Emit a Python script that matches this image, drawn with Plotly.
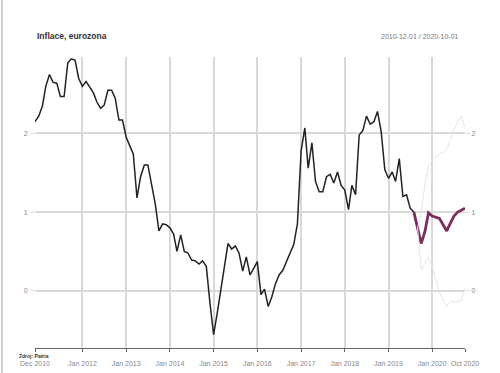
import pandas as pd
import plotly.graph_objects as go

# ---- data -------------------------------------------------------------
hist_start = "2010-12-01"
inflation = [
    2.15, 2.22, 2.35, 2.60, 2.75, 2.65, 2.64, 2.47, 2.47, 2.90, 2.95, 2.93,   # 2010-12 .. 2011-11
    2.70, 2.60, 2.66, 2.60, 2.52, 2.40, 2.32, 2.36, 2.55, 2.55, 2.45, 2.17,   # 2011-12 .. 2012-11
    2.17, 1.95, 1.83, 1.74, 1.18, 1.45, 1.60, 1.60, 1.35, 1.10, 0.76, 0.85,   # 2012-12 .. 2013-11
    0.84, 0.80, 0.72, 0.50, 0.71, 0.50, 0.48, 0.39, 0.38, 0.34, 0.38, 0.31,   # 2013-12 .. 2014-11
    -0.15, -0.56, -0.28, 0.01, 0.31, 0.60, 0.53, 0.57, 0.48, 0.25, 0.43, 0.20,  # 2014-12 .. 2015-11
    0.28, 0.37, -0.05, 0.02, -0.20, -0.08, 0.09, 0.20, 0.26, 0.37, 0.50, 0.59,  # 2015-12 .. 2016-11
    0.85, 1.78, 2.07, 1.56, 1.88, 1.39, 1.26, 1.26, 1.45, 1.48, 1.37, 1.51,   # 2016-12 .. 2017-11
    1.34, 1.28, 1.03, 1.34, 1.22, 1.98, 2.04, 2.22, 2.12, 2.15, 2.28, 2.02,   # 2017-12 .. 2018-11
    1.54, 1.43, 1.51, 1.39, 1.68, 1.20, 1.22, 1.05, 1.00,                     # 2018-12 .. 2019-08
]
fc_start = "2019-08-01"
forecast = [1.00, 0.80, 0.60, 0.75, 0.99, 0.95, 0.93, 0.92, 0.84, 0.76, 0.86, 0.95, 1.00, 1.03, 1.05]
band_start = "2019-09-01"
upper = [0.80, 1.00, 1.35, 1.58, 1.66, 1.70, 1.74, 1.76, 1.80, 1.92, 2.05, 2.15, 2.22, 2.08]
lower = [0.80, 0.26, 0.35, 0.43, 0.30, 0.15, -0.02, -0.12, -0.20, -0.14, -0.14, -0.14, -0.12, 0.03]

tick_dates = ["2010-12-01", "2012-01-01", "2013-01-01", "2014-01-01", "2015-01-01", "2016-01-01",
              "2017-01-01", "2018-01-01", "2019-01-01", "2020-01-01", "2020-10-01"]
tick_labels = ["Dec 2010", "Jan 2012", "Jan 2013", "Jan 2014", "Jan 2015", "Jan 2016",
               "Jan 2017", "Jan 2018", "Jan 2019", "Jan 2020", "Oct 2020"]
grid_dates = tick_dates[1:-1]
y_ticks = [0, 1, 2]
title = "Inflace, eurozona"
period = "2010-12-01 / 2020-10-01"
source = "Zdroj: Patria"

hist_x = pd.date_range(hist_start, periods=len(inflation), freq="MS")
fc_x = pd.date_range(fc_start, periods=len(forecast), freq="MS")
band_x = pd.date_range(band_start, periods=len(upper), freq="MS")

x_range = ["2010-12-01", "2020-10-01"]
y_range = [-0.729, 2.973]
grid_col = "#d9d9d9"
font = "Liberation Sans, Arial, sans-serif"

fig = go.Figure()
fig.add_trace(go.Scatter(x=band_x, y=upper, mode="lines", xaxis="x2",
                         line=dict(color="#e4e4e4", width=1), hoverinfo="skip"))
fig.add_trace(go.Scatter(x=band_x, y=lower, mode="lines", xaxis="x2",
                         line=dict(color="#e4e4e4", width=1), hoverinfo="skip"))
fig.add_trace(go.Scatter(x=hist_x, y=inflation, mode="lines",
                         line=dict(color="#222222", width=1.5)))
fig.add_trace(go.Scatter(x=fc_x, y=forecast, mode="lines",
                         line=dict(color="#7b2d5e", width=2.8)))
fig.add_trace(go.Scatter(x=fc_x, y=forecast, mode="lines", yaxis="y2",
                         line=dict(color="rgba(0,0,0,0)", width=0), hoverinfo="skip"))

fig.update_layout(
    width=500, height=373,
    margin=dict(l=35, r=34.5, t=57, b=25, autoexpand=False),
    paper_bgcolor="white", plot_bgcolor="white",
    showlegend=False,
    font=dict(family=font, color="#777"),
    xaxis=dict(type="date", range=x_range, tickmode="array", tickvals=tick_dates,
               ticktext=tick_labels, showgrid=False, zeroline=False, automargin=False,
               showline=True, linecolor="#666", linewidth=1,
               ticks="outside", ticklen=3, tickcolor="#666", tickwidth=1,
               ticklabelstandoff=6,
               tickfont=dict(size=7, color="#888")),
    xaxis2=dict(type="date", range=x_range, overlaying="x", matches="x",
                tickmode="array", tickvals=grid_dates, showgrid=True, automargin=False,
                gridcolor=grid_col, gridwidth=1.5, showticklabels=False,
                ticks="", zeroline=False, showline=False),
    yaxis=dict(range=y_range, tickmode="array", tickvals=y_ticks, showgrid=True,
               gridcolor=grid_col, gridwidth=1.5, zeroline=False, showline=False,
               automargin=False,
               ticks="outside", ticklen=3, tickcolor=grid_col, ticklabelstandoff=2,
               tickfont=dict(size=7, color="#888")),
    yaxis2=dict(range=y_range, overlaying="y", side="right", tickmode="array",
                tickvals=y_ticks, showgrid=False, zeroline=False, showline=False,
                automargin=False,
                ticks="outside", ticklen=4, tickcolor=grid_col,
                tickfont=dict(size=7, color="#888")),
    annotations=[
        dict(text=f"<b>{title}</b>", x=0, y=1.072, xref="paper", yref="paper",
             xanchor="left", yanchor="middle", showarrow=False,
             font=dict(size=8.5, color="#333", family=font)),
        dict(text=period, x=0.991, y=1.072, xref="paper", yref="paper",
             xanchor="right", yanchor="middle", showarrow=False,
             font=dict(size=7, color="#777", family=font)),
        dict(text=f"<b>{source}</b>", x=-0.0418, y=-0.0265, xref="paper", yref="paper",
             xanchor="left", yanchor="middle", showarrow=False,
             font=dict(size=5, color="#333", family=font)),
    ],
    shapes=[dict(type="line", xref="paper", yref="paper", x0=-0.0767, x1=-0.0767,
                 y0=-0.09, y1=1.2, line=dict(color="#cfcfcf", width=2))],
)

fig.write_html("out.html", config={"displayModeBar": False},
               post_script="document.body.style.margin='0px';")
